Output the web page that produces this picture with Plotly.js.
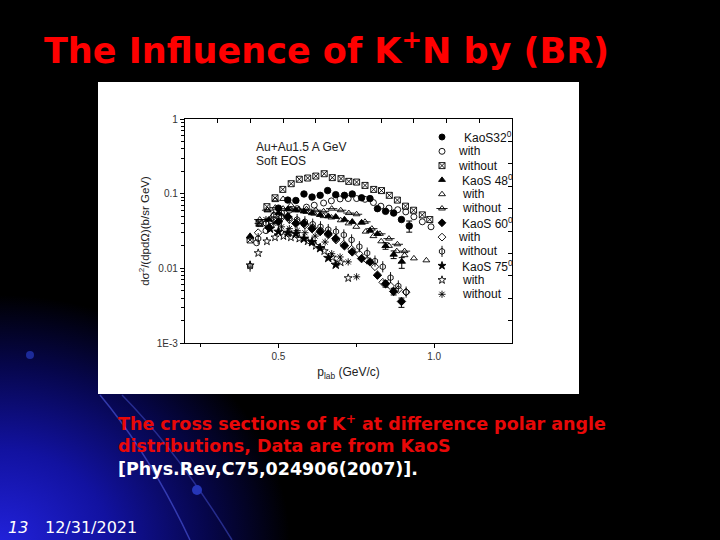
<!DOCTYPE html>
<html><head><meta charset="utf-8">
<script src="https://cdn.plot.ly/plotly-3.0.1.min.js"></script>
<style>
html,body{margin:0;padding:0;background:#000;}
#chart{width:720px;height:540px;background:radial-gradient(ellipse 290px 250px at 0px 545px, rgb(34,34,220) 0%, rgb(18,18,160) 38%, rgb(6,6,75) 72%, #000 100%), #000;}
</style></head><body><div id="chart"></div>
<script>
// ---- data ----
const x_kaos32 = [0.5,0.53,0.556,0.582,0.608,0.634,0.658,0.684,0.712,0.737,0.767,0.794,0.818,0.844,0.87,0.895,0.92];
const y_kaos32 = [0.064,0.082,0.081,0.099,0.09,0.095,0.11,0.097,0.095,0.099,0.088,0.086,0.063,0.058,0.055,0.045,0.037];
const ep_kaos32 = [NaN,NaN,NaN,NaN,NaN,NaN,NaN,NaN,NaN,NaN,NaN,NaN,NaN,NaN,NaN,NaN,0.006];
const em_kaos32 = [NaN,NaN,NaN,NaN,NaN,NaN,NaN,NaN,NaN,NaN,NaN,NaN,NaN,NaN,NaN,NaN,0.0065];

const x_with32 = [0.43,0.46,0.485,0.51,0.535,0.56,0.59,0.615,0.645,0.67,0.698,0.724,0.751,0.778,0.805,0.829,0.855,0.883,0.909,0.935,0.962,0.99];
const y_with32 = [0.022,0.032,0.045,0.055,0.06,0.063,0.066,0.07,0.075,0.08,0.085,0.086,0.086,0.084,0.076,0.068,0.064,0.061,0.057,0.049,0.042,0.036];

const x_without32 = [0.409,0.438,0.463,0.489,0.514,0.541,0.567,0.594,0.620,0.647,0.673,0.701,0.726,0.751,0.778,0.806,0.831,0.856,0.882,0.908,0.934,0.962,0.986];
const y_without32 = [0.024,0.041,0.067,0.088,0.114,0.136,0.156,0.162,0.172,0.185,0.164,0.159,0.146,0.143,0.129,0.114,0.11,0.095,0.082,0.068,0.06,0.052,0.045];

const x_kaos48 = [0.409,0.47,0.5,0.53,0.556,0.582,0.608,0.634,0.66,0.684,0.712,0.737,0.767,0.794,0.818,0.844,0.87,0.896];
const y_kaos48 = [0.027,0.045,0.055,0.062,0.06,0.058,0.055,0.052,0.05,0.049,0.045,0.042,0.041,0.032,0.029,0.02,0.0153,0.0123];
const ep_kaos48 = [NaN,NaN,NaN,NaN,NaN,NaN,NaN,NaN,NaN,NaN,NaN,NaN,NaN,NaN,NaN,0.002,0.0018,0.0016];
const em_kaos48 = [NaN,NaN,NaN,NaN,NaN,NaN,NaN,NaN,NaN,NaN,NaN,NaN,NaN,NaN,NaN,0.002,0.0018,0.0023];

const x_with48 = [0.41,0.44,0.465,0.49,0.515,0.54,0.565,0.59,0.615,0.645,0.67,0.7,0.725,0.75,0.78,0.805,0.83,0.855,0.88,0.905,0.935,0.975];
const y_with48 = [0.026,0.038,0.06,0.082,0.085,0.07,0.06,0.057,0.054,0.05,0.048,0.044,0.04,0.036,0.031,0.027,0.023,0.02,0.017,0.015,0.0136,0.0128];

const x_without48 = [0.44,0.465,0.49,0.515,0.54,0.565,0.59,0.62,0.645,0.671,0.7,0.726,0.751,0.778,0.8,0.826,0.855,0.882,0.905];
const y_without48 = [0.045,0.06,0.065,0.063,0.062,0.062,0.062,0.06,0.058,0.063,0.06,0.055,0.053,0.042,0.034,0.029,0.025,0.021,0.017];

const x_kaos60 = [0.47,0.5,0.53,0.556,0.582,0.608,0.634,0.66,0.684,0.712,0.737,0.767,0.794,0.818,0.844,0.87,0.895];
const y_kaos60 = [0.035,0.042,0.049,0.04,0.04,0.034,0.031,0.029,0.025,0.02,0.0166,0.0135,0.0122,0.0081,0.0062,0.0049,0.0036];
const ep_kaos60 = [NaN,NaN,NaN,NaN,NaN,NaN,NaN,NaN,NaN,NaN,NaN,NaN,NaN,NaN,0.0006,0.0005,0.0004];
const em_kaos60 = [NaN,NaN,NaN,NaN,NaN,NaN,NaN,NaN,NaN,NaN,NaN,NaN,NaN,NaN,0.0006,0.0005,0.0006];

const x_with60 = [0.435,0.46,0.485,0.51,0.535,0.56,0.585,0.61,0.635,0.66,0.685,0.71,0.735,0.76,0.785,0.81,0.835,0.86,0.885,0.91];
const y_with60 = [0.03,0.04,0.05,0.048,0.045,0.042,0.038,0.035,0.032,0.028,0.024,0.021,0.018,0.0155,0.0128,0.0105,0.0065,0.0058,0.0052,0.0048];

const x_without60 = [0.409,0.435,0.46,0.485,0.51,0.535,0.56,0.585,0.61,0.635,0.66,0.685,0.71,0.735,0.76,0.785,0.81,0.835,0.86,0.885,0.91];
const y_without60 = [0.0107,0.025,0.04,0.052,0.05,0.047,0.045,0.042,0.039,0.036,0.033,0.031,0.028,0.024,0.0195,0.016,0.0125,0.0105,0.0075,0.0058,0.0048];

const x_kaos75 = [0.473,0.5,0.53,0.556,0.582,0.608,0.634,0.66,0.684];
const y_kaos75 = [0.034,0.031,0.03,0.029,0.025,0.0225,0.0187,0.0138,0.0112];

const x_with75 = [0.409,0.435,0.463,0.489,0.516,0.54,0.567,0.594,0.62,0.647,0.673,0.7,0.724];
const y_with75 = [0.011,0.016,0.023,0.026,0.027,0.026,0.025,0.023,0.02,0.017,0.014,0.012,0.0074];

const x_without75 = [0.435,0.46,0.485,0.51,0.535,0.56,0.585,0.618,0.65,0.671,0.698,0.724,0.751];
const y_without75 = [0.04,0.045,0.04,0.036,0.034,0.032,0.03,0.027,0.0225,0.0157,0.0142,0.0122,0.0077];

const legendLabels = ['KaoS32<sup>0</sup>','with','without','KaoS 48<sup>0</sup>','with','without','KaoS 60<sup>0</sup>','with','without','KaoS 75<sup>0</sup>','with','without'];
const legendSymbols = ['circle','circle-open','square-x-open','triangle-up','triangle-up-open','triangle-up-open','diamond','diamond-open','hexagon-open','star','star-open','asterisk-open'];
const yTickVals = [0.001,0.01,0.1,1];
const yTickText = ['1E-3','0.01','0.1','1'];
const xTickVals = [0.5,1.0];
const xTickText = ['0.5','1.0'];

// ---- helpers for layout positions (pixels -> paper) ----
const W = 720, H = 540;
const PX = p => p / W;
const PY = p => 1 - p / H;

const traces = [];
function addSeries(x, y, sym, size, ep, em) {
  const t = {type:'scatter', mode:'markers', x:x, y:y, xaxis:'x', yaxis:'y', showlegend:false, hoverinfo:'skip',
    marker:{symbol:sym, size:size, color:'#000', line:{color:'#000', width:0.9}}};
  if (ep) t.error_y = {type:'data', symmetric:false, array:ep, arrayminus:em, color:'#000', thickness:1, width:3};
  traces.push(t);
}
addSeries(x_without32, y_without32, 'square-x-open', 6);
addSeries(x_with32, y_with32, 'circle-open', 6);
addSeries(x_with48, y_with48, 'triangle-up-open', 6);
addSeries(x_without48, y_without48, 'triangle-up-open', 6);
addSeries(x_without48, y_without48, 'line-ew-open', 8);
addSeries(x_with60, y_with60, 'diamond-open', 6);
addSeries(x_without60, y_without60, 'hexagon-open', 6);
addSeries(x_without60, y_without60, 'line-ns-open', 8);
addSeries(x_with75, y_with75, 'star-open', 6);
addSeries(x_without75, y_without75, 'asterisk-open', 6);
addSeries(x_kaos32, y_kaos32, 'circle', 6.5, ep_kaos32, em_kaos32);
addSeries(x_kaos48, y_kaos48, 'triangle-up', 6.5, ep_kaos48, em_kaos48);
addSeries(x_kaos60, y_kaos60, 'diamond', 6.5, ep_kaos60, em_kaos60);
addSeries(x_kaos75, y_kaos75, 'star', 7);

// top/right secondary axes (tick frame)
traces.push({type:'scatter', mode:'markers', x:[], y:[], xaxis:'x2', yaxis:'y2', showlegend:false, hoverinfo:'skip'});

// manual legend (pixel axes x3/y3)
const legRowY = legendLabels.map((_, i) => 137 + i * 14.3);
const legSymX = legendLabels.map(() => 442);
traces.push({type:'scatter', mode:'markers', x:legSymX, y:legRowY, xaxis:'x3', yaxis:'y3', showlegend:false, hoverinfo:'skip',
  marker:{symbol:legendSymbols, size:6, color:'#000', line:{color:'#000', width:0.9}}});
traces.push({type:'scatter', mode:'markers', x:[442,442], y:[legRowY[5], legRowY[8]], xaxis:'x3', yaxis:'y3', showlegend:false, hoverinfo:'skip',
  marker:{symbol:['line-ew-open','line-ns-open'], size:8, color:'#000', line:{color:'#000', width:0.9}}});

const legTextX = [462,456,456,460,460,460,460,456,456,460,460,460];
const annotations = legendLabels.map((t, i) => ({
  xref:'paper', yref:'paper', x:PX(legTextX[i]), y:PY(legRowY[i]), xanchor:'left', yanchor:'middle',
  text:t, showarrow:false, font:{family:'Liberation Sans, Arial, sans-serif', size:12, color:'#111'}
}));

const txt = (s, px, py, size, color, fam) => ({xref:'paper', yref:'paper', x:PX(px), y:PY(py), xanchor:'left', yanchor:'middle',
  text:s, showarrow:false, font:{family:fam || 'DejaVu Sans, sans-serif', size:size, color:color}});
const SANS = 'Liberation Sans, Arial, sans-serif';

annotations.push(txt('Au+Au1.5 A GeV', 254, 147, 12, '#222', SANS));
annotations.push(txt('Soft EOS', 254, 161, 12, '#222', SANS));
annotations.push(txt('<b>The Influence of K<sup>+</sup>N by (BR)</b>', 42, 48, 35, '#ff0000'));
annotations.push(txt('<b>The cross sections of K<sup>+</sup> at difference polar angle</b>', 116, 423, 17.5, '#e80808'));
annotations.push(txt('<b>distributions, Data are from KaoS</b>', 116, 446, 17.5, '#e80808'));
annotations.push(txt('<b>[Phys.Rev,C75,024906(2007)].</b>', 116, 469, 17.5, '#ffffff'));
annotations.push(txt('<i>13</i>', 6, 527, 16, '#ffffff'));
annotations.push(txt('12/31/2021', 43, 527, 16, '#ffffff'));

const shapes = [
  {type:'path', xref:'paper', yref:'paper', layer:'below',
   path:`M ${PX(100)} ${PY(395)} Q ${PX(150)} ${PY(455)} ${PX(190)} ${PY(540)}`, line:{color:'rgba(70,80,210,0.7)', width:1.5}},
  {type:'path', xref:'paper', yref:'paper', layer:'below',
   path:`M ${PX(122)} ${PY(395)} Q ${PX(178)} ${PY(452)} ${PX(232)} ${PY(540)}`, line:{color:'rgba(60,70,190,0.6)', width:1.5}},
  {type:'circle', xref:'paper', yref:'paper', layer:'below', x0:PX(192), x1:PX(202), y0:PY(495), y1:PY(485), fillcolor:'#2636b8', line:{width:0}},
  {type:'circle', xref:'paper', yref:'paper', layer:'below', x0:PX(26), x1:PX(34), y0:PY(359), y1:PY(351), fillcolor:'#1c2a9a', line:{width:0}},
  {type:'rect', xref:'paper', yref:'paper', layer:'below', x0:PX(98), x1:PX(579), y0:PY(394), y1:PY(82), fillcolor:'#ffffff', line:{width:0}}
];

const tickFont = {family:SANS, size:10, color:'#333'};
const layout = {
  width:W, height:H, margin:{l:0, r:0, t:0, b:0},
  paper_bgcolor:'rgba(0,0,0,0)', plot_bgcolor:'rgba(0,0,0,0)',
  showlegend:false,
  xaxis:{domain:[PX(185), PX(512)], range:[0.2, 1.25], tickmode:'array', tickvals:xTickVals, ticktext:xTickText,
    ticks:'outside', ticklen:4, tickcolor:'#000', showgrid:false, zeroline:false, showline:true, linecolor:'#000', linewidth:1.2, mirror:true,
    minor:{tickvals:[0.25,0.75], ticks:'outside', ticklen:3, tickcolor:'#000', showgrid:false},
    tickfont:tickFont, automargin:false,
    title:{text:'p<sub>lab</sub> (GeV/c)', font:{family:SANS, size:12, color:'#222'}, standoff:6}},
  yaxis:{domain:[PY(343), PY(119)], type:'log', range:[-3, 0], tickmode:'array', tickvals:yTickVals, ticktext:yTickText,
    ticks:'outside', ticklen:4, tickcolor:'#000', showgrid:false, zeroline:false, showline:true, linecolor:'#000', linewidth:1.2, mirror:true,
    minor:{dtick:'D1', ticks:'outside', ticklen:2.5, tickcolor:'#000', showgrid:false},
    tickfont:tickFont, automargin:false,
    title:{text:'dσ<sup>2</sup>/(dpdΩ)(b/sr GeV)', font:{family:SANS, size:11.5, color:'#222'}, standoff:4}},
  xaxis2:{overlaying:'x', anchor:'y', side:'top', range:[0,10], dtick:1, tick0:0, ticks:'inside', ticklen:4, tickcolor:'#000',
    showticklabels:false, showgrid:false, zeroline:false, showline:false},
  yaxis2:{overlaying:'y', anchor:'x', side:'right', range:[0,10], dtick:1, tick0:0, ticks:'inside', ticklen:4, tickcolor:'#000',
    showticklabels:false, showgrid:false, zeroline:false, showline:false},
  xaxis3:{domain:[0,1], range:[0,W], anchor:'y3', visible:false, fixedrange:true},
  yaxis3:{domain:[0,1], range:[H,0], anchor:'x3', visible:false, fixedrange:true},
  annotations:annotations, shapes:shapes
};
Plotly.newPlot('chart', traces, layout, {staticPlot:true, displayModeBar:false});
</script></body></html>
